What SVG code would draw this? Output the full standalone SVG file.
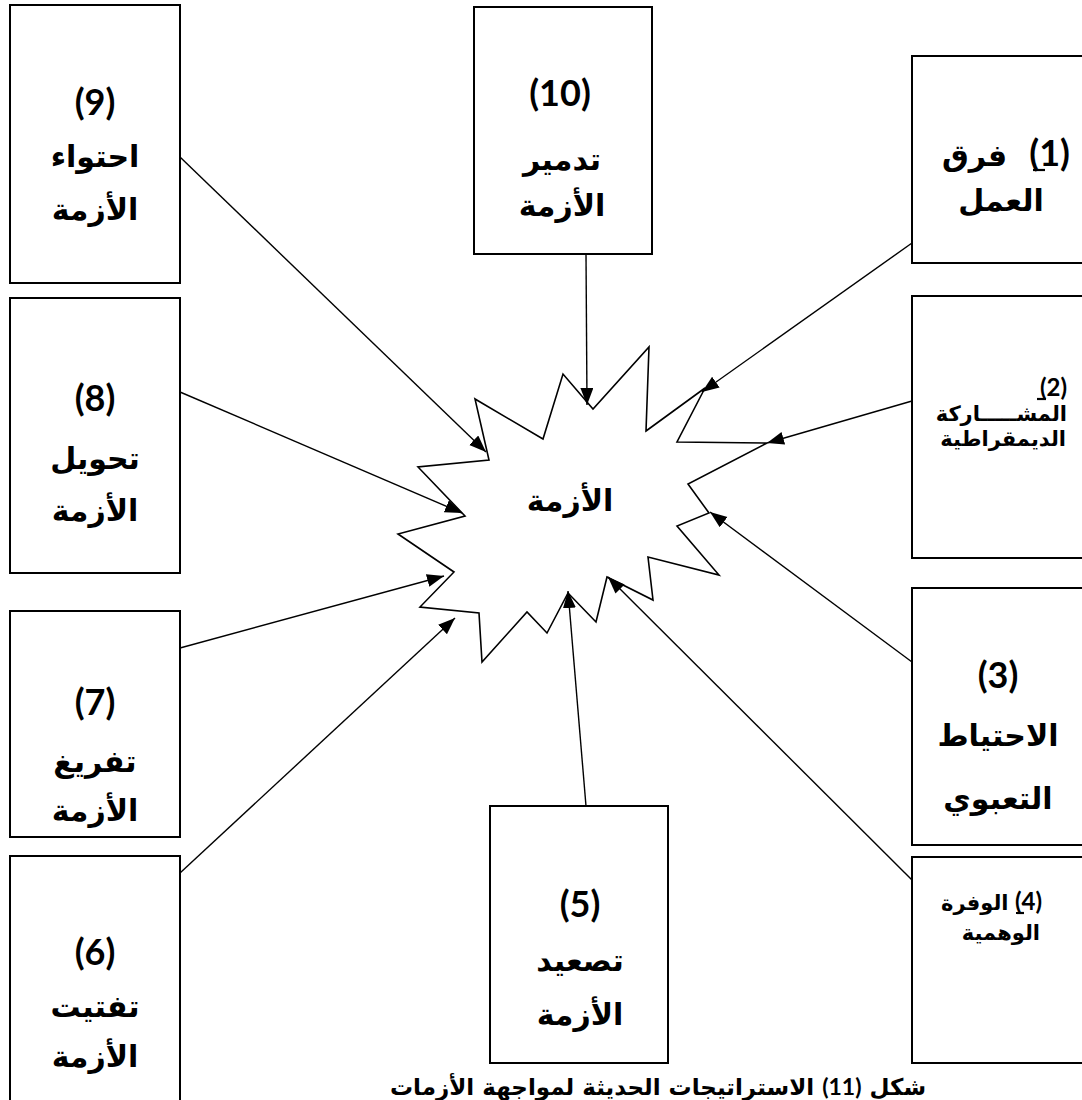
<svg xmlns="http://www.w3.org/2000/svg" width="1082" height="1100" viewBox="0 0 1082 1100">
  <style>
    .box { fill: #fff; stroke: #000; stroke-width: 2; }
    .star { fill: #fff; stroke: #000; stroke-width: 1.6; stroke-linejoin: miter; }
    .link { stroke: #000; stroke-width: 1.4; fill: none; marker-end: url(#head); }
    .num { font-family: Lato, "Open Sans", "Liberation Sans", sans-serif; font-weight: bold; font-size: 36px; text-anchor: middle; fill: #000; }
    .ar { font-family: "DejaVu Sans", "Liberation Sans", sans-serif; font-weight: bold; font-size: 30px; text-anchor: middle; fill: #000; }
    .ar-s { font-family: "DejaVu Sans", "Liberation Sans", sans-serif; font-weight: bold; font-size: 21px; text-anchor: end; fill: #000; }
    .num-s { font-family: Lato, "Open Sans", "Liberation Sans", sans-serif; font-weight: bold; font-size: 24px; text-anchor: start; fill: #000; }
    .cap { font-family: "DejaVu Sans", "Liberation Sans", sans-serif; font-weight: bold; font-size: 23px; fill: #000; text-anchor: middle; }
    .ul { stroke: #000; stroke-width: 2.2; }
    .st { text-anchor: start; }
    .en { text-anchor: end; }
  </style>
  <defs>
    <marker id="head" markerUnits="userSpaceOnUse" markerWidth="18" markerHeight="14" refX="17" refY="6.5" orient="auto">
      <path d="M0,0 L17,6.5 L0,13 z" fill="#000"/>
    </marker>
    <clipPath id="clip7">
      <rect x="10" y="611" width="170" height="218"/>
    </clipPath>
  </defs>
  <rect width="1082" height="1100" fill="#fff"/>

  <!-- central burst -->
  <g id="crisis">
    <polygon class="star" points="646,431 705,388 677,442 767,443 688,484 709,513 677,526 719,575 648,557 653,600 607,577 596,622 568,593 547,633 527,612 482,662 479,613 420,607 454,572 398,534 465,516 418,467 489,460 475,399 543,439 563,374 593,409 649,347"/>
    <text class="ar" x="570" y="511" font-size="31">الأزمة</text>
  </g>

  <!-- right column -->
  <g id="s1">
    <rect class="box" x="912" y="56" width="180" height="207"/>
    <text class="ar st" x="942" y="166">فرق</text>
    <text class="num en" x="1070" y="166">(1)</text>
    <line class="ul" x1="1033" y1="170" x2="1045" y2="170"/>
    <text class="ar" x="1001" y="211">العمل</text>
  </g>
  <g id="s2">
    <rect class="box" x="912" y="296" width="180" height="262"/>
    <text class="num-s en" x="1067" y="396">(2)</text>
    <line class="ul" x1="1037" y1="399" x2="1046" y2="399"/>
    <text class="ar-s" x="1067" y="421">المشـــــاركة</text>
    <text class="ar-s" x="1066" y="446">الديمقراطية</text>
  </g>
  <g id="s3">
    <rect class="box" x="912" y="588" width="180" height="257"/>
    <text class="num" x="998" y="688">(3)</text>
    <text class="ar" x="998" y="746">الاحتياط</text>
    <text class="ar" x="998" y="809">التعبوي</text>
  </g>
  <g id="s4">
    <rect class="box" x="912" y="857" width="180" height="206"/>
    <text class="ar-s st" x="941" y="910" font-size="19">الوفرة</text>
    <text class="num-s en" x="1042" y="910" font-size="22">(4)</text>
    <line class="ul" x1="1016" y1="913" x2="1024" y2="913"/>
    <text class="ar-s" x="1040" y="940" font-size="19">الوهمية</text>
  </g>

  <!-- bottom and top centre -->
  <g id="s5">
    <rect class="box" x="490" y="806" width="178" height="257"/>
    <text class="num" x="580" y="917">(5)</text>
    <text class="ar" x="580" y="971">تصعيد</text>
    <text class="ar" x="580" y="1025">الأزمة</text>
  </g>
  <g id="s10">
    <rect class="box" x="474" y="7" width="178" height="247"/>
    <text class="num" x="560" y="106">(10)</text>
    <text class="ar" x="562" y="170">تدمير</text>
    <text class="ar" x="562" y="216">الأزمة</text>
  </g>

  <!-- left column -->
  <g id="s9">
    <rect class="box" x="10" y="5" width="170" height="278"/>
    <text class="num" x="95" y="115">(9)</text>
    <text class="ar" x="95" y="167">احتواء</text>
    <text class="ar" x="95" y="220">الأزمة</text>
  </g>
  <g id="s8">
    <rect class="box" x="10" y="298" width="170" height="275"/>
    <text class="num" x="95" y="411">(8)</text>
    <text class="ar" x="95" y="469">تحويل</text>
    <text class="ar" x="95" y="521">الأزمة</text>
  </g>
  <g id="s7">
    <rect class="box" x="10" y="611" width="170" height="226"/>
    <g clip-path="url(#clip7)">
      <text class="num" x="95" y="715">(7)</text>
      <text class="ar" x="95" y="772">تفريغ</text>
      <text class="ar" x="95" y="821">الأزمة</text>
    </g>
  </g>
  <g id="s6">
    <rect class="box" x="10" y="856" width="170" height="260"/>
    <text class="num" x="95" y="965">(6)</text>
    <text class="ar" x="95" y="1017">تفتيت</text>
    <text class="ar" x="95" y="1067">الأزمة</text>
  </g>

  <!-- connectors into the burst -->
  <g id="connectors">
    <line class="link" x1="912" y1="243" x2="702" y2="392"/>
    <line class="link" x1="912" y1="401" x2="767" y2="443"/>
    <line class="link" x1="912" y1="662" x2="710" y2="512"/>
    <line class="link" x1="912" y1="880" x2="608" y2="577"/>
    <line class="link" x1="586" y1="806" x2="568" y2="591"/>
    <line class="link" x1="180" y1="873" x2="455" y2="618"/>
    <line class="link" x1="180" y1="648" x2="444" y2="576"/>
    <line class="link" x1="180" y1="392" x2="462" y2="513"/>
    <line class="link" x1="180" y1="157" x2="486" y2="452"/>
    <line class="link" x1="586" y1="254" x2="587" y2="405"/>
  </g>

  <!-- figure caption -->
  <text id="caption" class="cap" x="658" y="1095" direction="rtl">شكل <tspan font-family="Lato, 'Open Sans', sans-serif">(11)</tspan> الاستراتيجات الحديثة لمواجهة الأزمات</text>
</svg>
